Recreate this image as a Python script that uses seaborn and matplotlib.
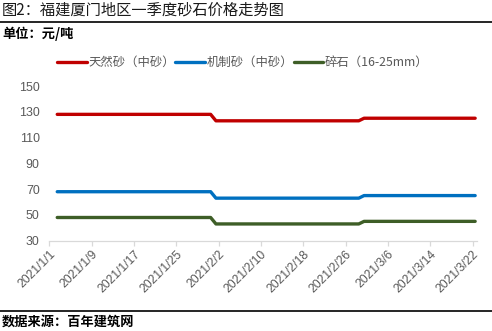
import matplotlib
matplotlib.use("Agg")
import matplotlib.pyplot as plt
from matplotlib.lines import Line2D
import seaborn as sns
import pandas as pd

# Price series (元/吨): values hold flat between the listed dates
dates = ["2021-01-02", "2021-01-31", "2021-02-01", "2021-02-28", "2021-03-01", "2021-03-22"]
natural_sand = [128, 128, 123, 123, 125, 125]
machine_sand = [68, 68, 63, 63, 65, 65]
gravel = [48, 48, 43, 43, 45, 45]
series_names = ["天然砂（中砂）", "机制砂（中砂）", "碎石（16-25mm）"]
colors = ["#C00000", "#0070C0", "#3E5E27"]

tick_dates = ["2021-01-01", "2021-01-09", "2021-01-17", "2021-01-25", "2021-02-02",
              "2021-02-10", "2021-02-18", "2021-02-26", "2021-03-06", "2021-03-14",
              "2021-03-22"]
tick_labels = ["2021/1/1", "2021/1/9", "2021/1/17", "2021/1/25", "2021/2/2",
               "2021/2/10", "2021/2/18", "2021/2/26", "2021/3/6", "2021/3/14",
               "2021/3/22"]
y_ticks = [30, 50, 70, 90, 110, 130, 150]

title = "图2：福建厦门地区一季度砂石价格走势图"
unit = "单位：元/吨"
source = "数据来源：百年建筑网"

df = pd.DataFrame({
    "date": pd.to_datetime(dates * 3),
    "price": natural_sand + machine_sand + gravel,
    "series": [s for s in series_names for _ in dates],
})

sns.set_theme(style="white")
plt.rcParams["font.family"] = ["Liberation Sans", "Noto Sans CJK SC", "DejaVu Sans"]
cjk = ["Noto Sans CJK SC", "DejaVu Sans"]
gray = "#595959"

W, H = 492, 331
fig = plt.figure(figsize=(W / 100, H / 100), dpi=100)
ax = fig.add_axes([49.3 / W, 1 - 240.7 / H, (476.7 - 49.3) / W, (240.7 - 86) / H])

sns.lineplot(data=df, x="date", y="price", hue="series", palette=colors,
             hue_order=series_names, linewidth=2.4, ax=ax, legend=False,
             solid_capstyle="round")

# Category-style date axis: ticks sit on the day boundaries
half_day = pd.Timedelta(hours=12)
ax.set_xticks([pd.Timestamp(d) - half_day for d in tick_dates])
ax.set_xticklabels(tick_labels, rotation=45, ha="right", rotation_mode="anchor",
                   fontsize=8.7, color=gray)
ax.set_xlim(pd.Timestamp("2021-01-01") - half_day, pd.Timestamp("2021-03-22 07:00"))
ax.set_ylim(30, 150)
ax.set_yticks(y_ticks)
ax.set_yticklabels([str(v) for v in y_ticks], fontsize=8.9, color=gray)
ax.set_xlabel("")
ax.set_ylabel("")
ax.grid(False)
for side in ["left", "right", "top"]:
    ax.spines[side].set_visible(False)
ax.spines["bottom"].set_color("#D9D9D9")
ax.spines["bottom"].set_linewidth(0.9)
ax.tick_params(axis="x", length=3.5, width=0.9, color="#D9D9D9", pad=2, bottom=True)
ax.tick_params(axis="y", length=0, pad=7)

# Legend across the top
handles = [Line2D([0], [0], color=c, lw=2.4) for c in colors]
leg = fig.legend(handles, series_names, loc="center", ncol=3, frameon=False,
                 bbox_to_anchor=(243 / W, 1 - 62.5 / H), handlelength=2.4,
                 handletextpad=0.15, columnspacing=0.0,
                 prop={"family": cjk, "size": 8.9})
for t in leg.get_texts():
    t.set_color(gray)

# Header and footer
fig.text(2 / W, 1 - 10.5 / H, title, fontsize=11, family=cjk, va="center", ha="left",
         color="#1a1a1a")
fig.add_artist(Line2D([0, 1], [1 - 22 / H] * 2, color="black", lw=1.2,
                      transform=fig.transFigure))
fig.text(2 / W, 1 - 33.5 / H, unit, fontsize=9.5, family=cjk, fontweight="bold",
         va="center", ha="left", color="black")
fig.add_artist(Line2D([0, 1], [1 - 311 / H] * 2, color="black", lw=1.2,
                      transform=fig.transFigure))
fig.text(2 / W, 1 - 322 / H, source, fontsize=9.5, family=cjk, fontweight="bold",
         va="center", ha="left", color="black")

fig.savefig("out.png", dpi=100, facecolor="white")
